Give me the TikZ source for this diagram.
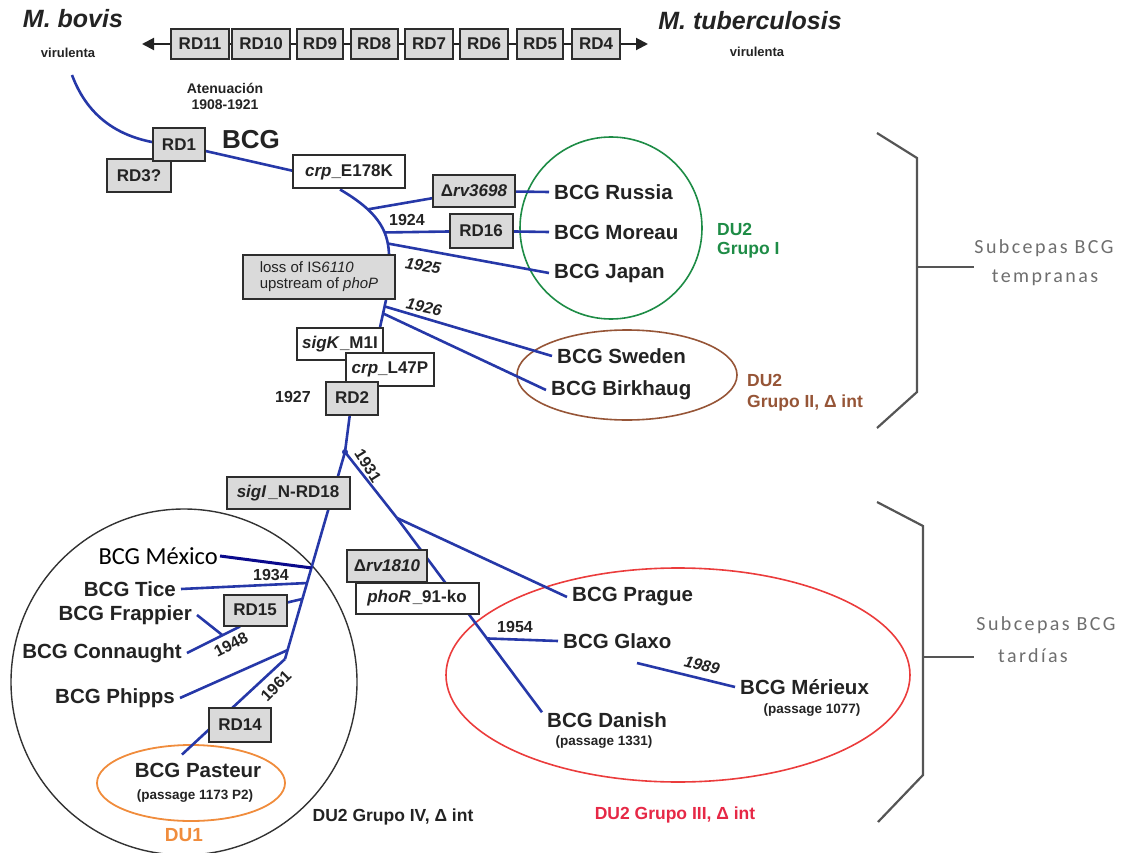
\documentclass[tikz,border=0pt]{standalone}
\usepackage{fontspec}
\setmainfont{Liberation Sans}
\newfontfamily\carl{Carlito}
\newfontfamily\carlsp[LetterSpace=12]{Carlito}
\usetikzlibrary{arrows.meta,backgrounds,calc}
\newcommand{\myfs}[1]{\fontsize{#1}{#1}\selectfont}
\definecolor{bblue}{RGB}{38,56,168}
\definecolor{navyc}{RGB}{10,10,140}
\definecolor{grn}{RGB}{30,140,70}
\definecolor{brn}{RGB}{150,85,55}
\definecolor{redc}{RGB}{235,60,60}
\definecolor{redt}{RGB}{230,40,70}
\definecolor{orng}{RGB}{240,140,60}
\definecolor{boxfill}{RGB}{218,218,218}
\definecolor{boxline}{RGB}{45,45,45}
\definecolor{txt}{RGB}{35,35,35}
\definecolor{brkc}{RGB}{85,85,85}
\definecolor{brktxt}{RGB}{110,110,110}
\begin{document}
\begin{tikzpicture}[x=1pt,y=-1pt,
  rdbox/.style={draw=boxline, line width=2pt, inner sep=0pt, text=txt, font=\bfseries\myfs{17}},
  graybox/.style={rdbox, fill=boxfill},
  whitebox/.style={rdbox, fill=white},
  sz/.style 2 args={minimum width=#1pt, minimum height=#2pt},
  branch/.style={draw=bblue, line width=2.6pt},
  navyline/.style={draw=navyc, line width=3pt},
  topln/.style={draw=txt, line width=2pt},
  lbl/.style={font=\bfseries\myfs{20.5}, text=txt, inner xsep=5pt, inner ysep=0pt},
  yr/.style={font=\bfseries\myfs{16}, text=txt, inner sep=0pt},
  yri/.style={font=\bfseries\itshape\myfs{16}, text=txt, inner sep=0pt},
  passtxt/.style={font=\bfseries\myfs{13.5}, text=txt, inner sep=0pt},
  grp/.style={font=\bfseries\myfs{17.5}, inner sep=0pt},
  brk/.style={draw=brkc, line width=2.2pt},
  brktext/.style={font=\carlsp\myfs{20}, text=brktxt, inner sep=0pt},
]
\useasboundingbox (0,0) rectangle (1127,853);

% ---------- top row ----------
\node[graybox,sz={58}{30}] (rd11) at (200,44) {RD11};
\node[graybox,sz={58}{30}] (rd10) at (261,44) {RD10};
\node[graybox,sz={46}{30}] (rd9) at (320,44) {RD9};
\node[graybox,sz={47}{30}] (rd8) at (374,44) {RD8};
\node[graybox,sz={48}{30}] (rd7) at (429,44) {RD7};
\node[graybox,sz={48}{30}] (rd6) at (484,44) {RD6};
\node[graybox,sz={46}{30}] (rd5) at (540,44) {RD5};
\node[graybox,sz={48}{30}] (rd4) at (596,44) {RD4};
\coordinate (al) at (142,44);
\coordinate (ar) at (648,44);
\foreach \a/\b in {rd11/rd10,rd10/rd9,rd9/rd8,rd8/rd7,rd7/rd6,rd6/rd5,rd5/rd4}
  \draw[topln] (\a) -- (\b);
\draw[topln,-{Triangle[length=12pt,width=12pt]}] (rd11) -- (al);
\draw[topln,-{Triangle[length=12pt,width=12pt]}] (rd4) -- (ar);

\node[font=\bfseries\itshape\myfs{25}, text=txt] (bovis) at (73,19) {M. bovis};
\node[font=\bfseries\myfs{13}, text=txt] (vb) at (68,53) {virulenta};
\node[font=\bfseries\itshape\myfs{25}, text=txt] (tb) at (750,21) {M. tuberculosis};
\node[font=\bfseries\myfs{13}, text=txt] (vt) at (757,52) {virulenta};
\node[font=\bfseries\myfs{14}, text=txt] (aten1) at (225,88) {Atenuación};
\node[font=\bfseries\myfs{14}, text=txt] (aten2) at (225,105) {1908-1921};

% ---------- boxes of the tree ----------
\coordinate (s0) at (72,75);
\node[graybox,sz={64}{33}] (rd3) at (139,176) {RD3?};
\node[graybox,sz={52}{33}] (rd1) at (179,145) {RD1};
\node[font=\bfseries\myfs{26}, text=txt] (bcg) at (251,140) {BCG};
\node[whitebox,sz={112}{33}] (crp1) at (349,172) {\textit{crp}\_E178K};
\node[graybox,sz={82}{32}] (d3698) at (474,191) {Δ\textit{rv3698}};
\node[graybox,sz={63}{33}] (rd16) at (481,231) {RD16};
\node[graybox,sz={152}{44},font=\myfs{15},align=left] (loss) at (319,277) {loss of IS\textit{6110}\\[1pt]upstream of \textit{phoP}};
\node[whitebox,sz={86}{32}] (sigk) at (340,344) {\textit{sigK}\_M1I};
\node[whitebox,sz={88}{33}] (crp2) at (390,369) {\textit{crp}\_L47P};
\node[graybox,sz={52}{33}] (rd2) at (352,398) {RD2};
\node[graybox,sz={123}{32}] (sigi) at (288,493) {\textit{sigI}\hspace{2pt}\_N-RD18};
\node[graybox,sz={63}{31}] (rd15) at (255,610) {RD15};
\node[graybox,sz={62}{34}] (rd14) at (240,725) {RD14};
\node[graybox,sz={80}{32}] (d1810) at (387,566) {Δ\textit{rv1810}};
\node[whitebox,sz={123}{31}] (phor) at (417,598) {\textit{phoR}\hspace{2pt}\_91-ko};

\coordinate (kink) at (379,332);
\coordinate (dot) at (345,452);
\coordinate (mend) at (285,659);
\coordinate (jp) at (397,518);
\coordinate (m0) at (637,663);

% ---------- strain labels ----------
\node[lbl,anchor=west] (russia) at (549,192) {BCG Russia};
\node[lbl,anchor=west] (moreau) at (549,232) {BCG Moreau};
\node[lbl,anchor=west] (japan) at (549,273) {BCG Japan};
\node[lbl,anchor=west] (sweden) at (552,356) {BCG Sweden};
\node[lbl,anchor=west] (birkhaug) at (546,390) {BCG Birkhaug};
\node[lbl,anchor=west] (prague) at (567,597) {BCG Prague};
\node[lbl,anchor=west] (glaxo) at (558,641) {BCG Glaxo};
\node[lbl] (danish) at (607,720) {BCG Danish};
\node[passtxt] (pdan) at (604,742) {(passage 1331)};
\node[lbl,anchor=west] (merieux) at (735,687) {BCG Mérieux};
\node[passtxt] (pmer) at (812,710) {(passage 1077)};
\node[font=\carl\myfs{24.5}, text=black, inner xsep=2pt, inner ysep=0pt, anchor=east] (mexico) at (220,556) {BCG México};
\node[lbl,anchor=east] (tice) at (181,589) {BCG Tice};
\node[lbl,anchor=east] (frappier) at (197,615) {BCG Frappier};
\node[lbl,anchor=east] (connaught) at (187,653) {BCG Connaught};
\node[lbl,anchor=east] (phipps) at (180,698) {BCG Phipps};
\node[lbl] (pasteur) at (198,770) {BCG Pasteur};
\node[passtxt] (ppas) at (195,796) {(passage 1173 P2)};

% ---------- years ----------
\node[yr] (y1924) at (407,220) {1924};
\node[yri,rotate=-10] (y1925) at (423,266) {1925};
\node[yri,rotate=-12] (y1926) at (424,307) {1926};
\node[yr] (y1927) at (293,397) {1927};
\node[yr,rotate=-58] (y1931) at (368,466) {1931};
\node[yr] (y1934) at (271,575) {1934};
\node[yr,rotate=27] (y1948) at (231,645) {1948};
\node[yr] (y1954) at (515,627) {1954};
\node[yr,rotate=45] (y1961) at (276,686) {1961};
\node[yri,rotate=-14] (y1989) at (702,665) {1989};

% ---------- group labels ----------
\node[grp, text=grn, anchor=west] (g1a) at (717,229) {DU2};
\node[grp, text=grn, anchor=west] (g1b) at (717,250) {Grupo I};
\node[grp, text=brn, anchor=west] (g2a) at (747,380) {DU2};
\node[grp, text=brn, anchor=west] (g2b) at (747,403) {Grupo II, Δ int};
\node[grp, text=redt] (g3) at (675,815) {DU2 Grupo III, Δ int};
\node[grp, text=txt] (g4) at (393,817) {DU2 Grupo IV, Δ int};
\node[font=\bfseries\myfs{19}, text=orng] (du1) at (184,835) {DU1};

% ---------- brackets ----------
\draw[brk] (877,133) -- (917,158) -- (917,392) -- (877,428);
\draw[brk] (877,502) -- (923,526) -- (923,775) -- (878,822);
\node[brktext] (e1) at (1044,248) {Subcepas BCG};
\node[brktext] (e2) at (1045,278) {tempranas};
\node[brktext] (l1) at (1046,625) {Subcepas BCG};
\node[brktext] (l2) at (1033,656) {tardías};
\coordinate (bt1) at (917,267);
\coordinate (bt2) at (923,657);
\draw[brk] (bt1) -- (bt1 -| e1.west);
\draw[brk] (bt2) -- ($(bt2 -| l1.west)+(-2,0)$);

% ---------- lines and groupings (behind) ----------
\begin{scope}[on background layer]
  \draw[grn, line width=1.6pt] (611,228) circle[radius=91];
  \draw[brn, line width=1.6pt] (627,375) ellipse[x radius=110, y radius=45];
  \draw[redc, line width=1.6pt] (678,675) ellipse[x radius=232, y radius=107];
  \draw[black!80, line width=1.4pt] (184,682) circle[radius=173];
  \draw[orng, line width=1.8pt] (191,783) ellipse[x radius=94, y radius=38];

  \draw[branch] (s0) .. controls (88,118) and (122,143) .. (rd1.center);
  \draw[branch] (rd1.center) -- ($(crp1.west)+(6,0)$);
  \draw[branch] ($(crp1.south)+(-9,0)$) .. controls (375,210) and (388,228) .. ($(loss.north east)+(-7,0)$)
      coordinate[pos=0.33] (jru) coordinate[pos=0.7] (jmo) coordinate[pos=0.86] (jja);
  \draw[branch] (jru) -- (d3698.center) -- (russia.west);
  \draw[branch] (jmo) -- (rd16.center) -- (moreau.west);
  \draw[branch] (jja) -- (japan.west);
  \draw[branch] ($(loss.south east)+(-10,0)$) -- (kink) coordinate[pos=0.2] (jsw) coordinate[pos=0.42] (jbi) -- (rd2.center);
  \draw[branch] (jsw) -- (sweden.west);
  \draw[branch] (jbi) -- (birkhaug.west);
  \draw[branch] (rd2.center) -- (dot) -- (mend)
      coordinate[pos=0.56] (jmx) coordinate[pos=0.633] (jti) coordinate[pos=0.71] (j15) coordinate[pos=0.957] (jph);
  \draw[navyline] (mexico.east) -- (jmx);
  \draw[branch] (tice.east) -- (jti);
  \draw[branch] (j15) -- (rd15.center);
  \draw[branch] (connaught.east) -- ($(rd15.south)+(-15,0)$) coordinate[pos=0.67] (j48);
  \draw[branch] (frappier.east) -- (j48);
  \draw[branch] (jph) -- (phipps.east);
  \draw[branch] (mend) -- ([xshift=-16pt,yshift=8pt]pasteur.north);
  \draw[branch] (dot) -- (jp);
  \draw[branch] (jp) -- (prague.west);
  \draw[branch] (jp) -- (danish.north west) coordinate[pos=0.62] (jgl);
  \draw[branch] (jgl) -- (glaxo.west);
  \draw[branch] (m0) -- (merieux.west);
\end{scope}
\fill[bblue] (dot) circle[radius=3];
\end{tikzpicture}
\end{document}
